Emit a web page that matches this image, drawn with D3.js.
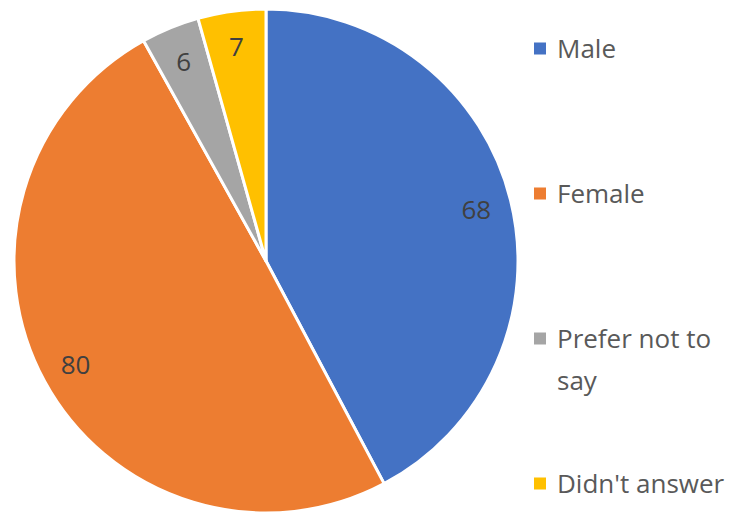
<!DOCTYPE html>
<html>
<head>
<meta charset="utf-8">
<script src="https://cdn.jsdelivr.net/npm/d3@7"></script>
<style>
  body { margin: 0; background: #fff; }
  text { font-family: "Open Sans", sans-serif; }
</style>
</head>
<body>
<div id="chart"></div>
<script>
var categories = ['Male', 'Female', 'Prefer not to say', "Didn't answer"];
var values = [68, 80, 6, 7];
var colors = ['#4472C4', '#ED7D31', '#A5A5A5', '#FFC000'];
var legendLines = [['Male'], ['Female'], ['Prefer not to', 'say'], ["Didn't answer"]];

var width = 737, height = 516;
var cx = 266, cy = 261, radius = 252;
var fontSize = 26;

var svg = d3.select('#chart').append('svg')
  .attr('width', width)
  .attr('height', height);

var pie = d3.pie().sort(null).value(function (d) { return d; });
var arcs = pie(values);

var arc = d3.arc().innerRadius(0).outerRadius(radius);
var labelArc = d3.arc().innerRadius(radius * 0.86).outerRadius(radius * 0.86);

var g = svg.append('g').attr('transform', 'translate(' + cx + ',' + cy + ')');

g.selectAll('path')
  .data(arcs)
  .enter()
  .append('path')
  .attr('d', arc)
  .attr('fill', function (d, i) { return colors[i]; })
  .attr('stroke', '#fff')
  .attr('stroke-width', 3)
  .attr('stroke-linejoin', 'round');

g.selectAll('text.label')
  .data(arcs)
  .enter()
  .append('text')
  .attr('class', 'label')
  .attr('x', function (d) { return labelArc.centroid(d)[0]; })
  .attr('y', function (d) { return labelArc.centroid(d)[1]; })
  .attr('text-anchor', 'middle')
  .attr('dominant-baseline', 'central')
  .attr('fill', '#404040')
  .style('font-size', fontSize + 'px')
  .text(function (d) { return d.data; });

// legend
var legendY = d3.scaleBand().domain(categories).range([-24, 556]);

var legend = svg.selectAll('g.legend')
  .data(categories)
  .enter()
  .append('g')
  .attr('class', 'legend')
  .attr('transform', function (d) {
    return 'translate(534,' + (legendY(d) + legendY.bandwidth() / 2) + ')';
  });

legend.append('rect')
  .attr('x', 0)
  .attr('y', -6)
  .attr('width', 12)
  .attr('height', 12)
  .attr('fill', function (d, i) { return colors[i]; });

legend.append('text')
  .attr('x', 23)
  .attr('fill', '#595959')
  .style('font-size', fontSize + 'px')
  .selectAll('tspan')
  .data(function (d, i) { return legendLines[i]; })
  .enter()
  .append('tspan')
  .attr('x', 23)
  .attr('y', function (d, i) { return i * 42; })
  .attr('dy', '0.35em')
  .text(function (d) { return d; });
</script>
</body>
</html>
